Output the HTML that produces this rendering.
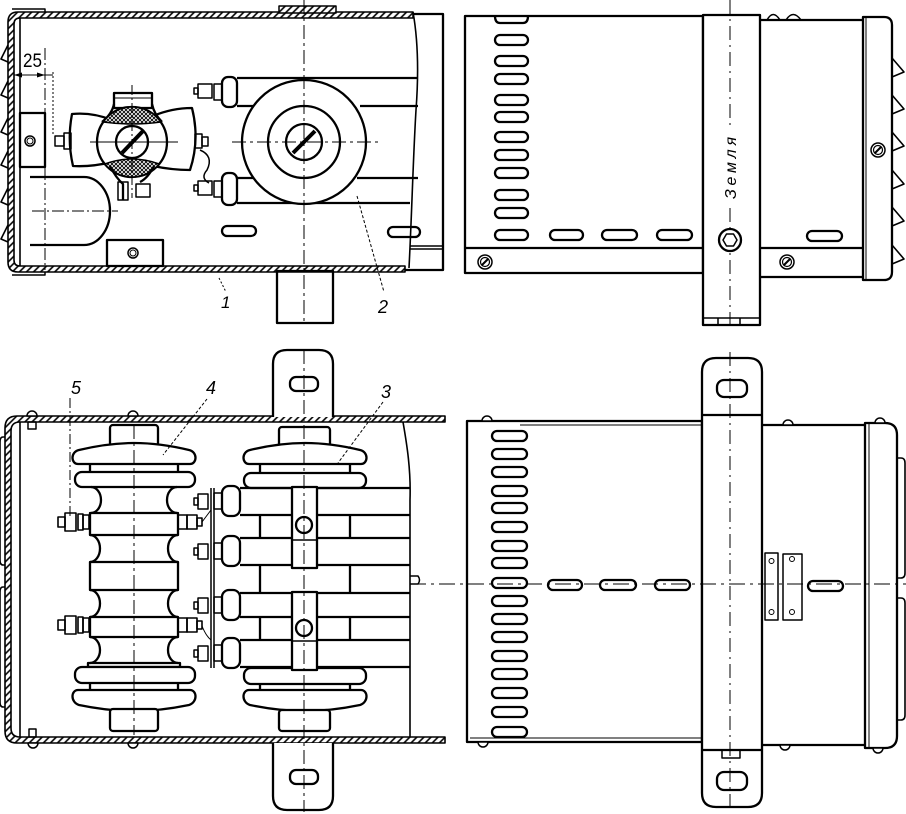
<!DOCTYPE html>
<html><head><meta charset="utf-8"><style>html,body{margin:0;padding:0;background:#fff}svg{display:block}</style></head>
<body>
<svg width="906" height="814" viewBox="0 0 906 814" xmlns="http://www.w3.org/2000/svg">
<defs>
<pattern id="hp" patternUnits="userSpaceOnUse" width="5" height="5" patternTransform="rotate(45)"><rect width="5" height="5" fill="#fff"/><line x1="1" y1="0" x2="1" y2="5" stroke="#000" stroke-width="1.6"/></pattern>
<pattern id="xp" patternUnits="userSpaceOnUse" width="4" height="4"><rect width="4" height="4" fill="#fff"/><path d="M0,0 L4,4 M4,0 L0,4" stroke="#000" stroke-width="0.9"/></pattern>
</defs>
<rect width="906" height="814" fill="#fff"/>
<g fill="none" stroke="#000" stroke-width="2.3" stroke-linejoin="round">

<!-- ================= TOP-LEFT VIEW ================= -->
<path fill="url(#hp)" stroke-width="1.6" d="M413,12 H18 Q8,12 8,22 V262 Q8,272 18,272 H405 V266 H20 Q14,266 14,260 V24 Q14,18 20,18 H413 Z"/>
<path stroke-width="1.5" d="M12,9 H45 V12 M12,275 H45 V272"/>
<line x1="20" y1="18" x2="20" y2="266" stroke-width="1.6"/>
<rect x="279" y="6" width="57" height="7" fill="url(#hp)" stroke-width="1.5"/>
<path stroke-width="1.6" d="M413,12 C418,40 419,70 416,110 C413,160 412,210 409,268"/>
<path d="M413,14 H443 V270 H405"/>
<path stroke-width="1.6" d="M410,246 H443 M410,249 H443"/>
<g stroke-width="1.6">
<path d="M8,45 L1,59 L8,62"/><path d="M8,81 L1,95 L8,98"/><path d="M8,118 L1,132 L8,135"/>
<path d="M8,151 L1,165 L8,168"/><path d="M8,188 L1,202 L8,205"/><path d="M8,225 L1,239 L8,242"/>
</g>
<line x1="45" y1="48" x2="45" y2="270" stroke-width="1" stroke-dasharray="12 3 2 3"/>
<line x1="14" y1="75" x2="53" y2="75" stroke-width="1"/>
<polygon points="14,75 22,72.5 22,77.5" fill="#000" stroke="none"/>
<polygon points="45,75 37,72.5 37,77.5" fill="#000" stroke="none"/>
<line x1="53" y1="72" x2="53" y2="135" stroke-width="1" stroke-dasharray="2 2"/>
<text x="23" y="67" font-family="Liberation Sans, sans-serif" font-size="19" fill="#000" stroke="none" textLength="19" lengthAdjust="spacingAndGlyphs">25</text>
<rect x="20" y="113" width="25" height="54"/>
<circle cx="30" cy="141" r="5" stroke-width="1.5"/><circle cx="30" cy="141" r="3" stroke-width="1"/>
<path d="M30,177 H84 A26,34 0 0 1 84,245 H30"/>
<line x1="32" y1="211" x2="118" y2="211" stroke-width="1" stroke-dasharray="12 3 2 3"/>
<rect x="107" y="240" width="56" height="26"/>
<circle cx="133" cy="253" r="5" stroke-width="1.5"/><circle cx="133" cy="253" r="3" stroke-width="1"/>

<!-- left assembly -->
<path fill="#fff" d="M112,120 Q92,112 72,114 Q67,140 73,166 Q92,167 112,162"/>
<path fill="#fff" d="M153,116 Q172,108 192,108 Q200,140 190,170 Q172,170 153,166"/>
<rect x="55" y="136" width="9" height="10" stroke-width="1.5"/><rect x="64" y="133" width="7" height="16" stroke-width="1.5"/>
<rect x="195" y="134" width="7" height="14" stroke-width="1.5"/><rect x="202" y="137" width="6" height="9" stroke-width="1.5"/>
<rect x="114" y="93" width="38" height="15" fill="#fff"/><line x1="114" y1="98" x2="152" y2="98" stroke-width="1"/>
<path d="M114,104 Q112,114 102,122 M152,104 Q154,114 162,122"/>
<circle cx="132" cy="142" r="35" fill="#fff"/>
<path fill="url(#xp)" stroke-width="1.5" d="M103.3,122 A35,35 0 0 1 160.7,122 Q132,126 103.3,122 Z"/>
<path fill="url(#xp)" stroke-width="1.5" d="M104.8,164 Q132,154 159.2,164 A35,35 0 0 1 104.8,164 Z"/>
<circle cx="132" cy="142" r="16"/>
<line x1="122" y1="153" x2="143" y2="131" stroke-width="4"/>
<line x1="90" y1="142" x2="178" y2="142" stroke-width="1"/>
<line x1="132" y1="85" x2="132" y2="198" stroke-width="1" stroke-dasharray="10 3 2 3"/>
<path d="M110,166 Q116,178 123,184 V200 M154,166 Q148,178 140,182"/>
<rect x="118" y="182" width="10" height="18" stroke-width="1.5"/><rect x="136" y="184" width="14" height="13" stroke-width="1.5"/>
<path stroke-width="1.5" d="M200,150 Q214,156 207,170 Q200,178 209,183"/>

<!-- right assembly -->
<path d="M237,78 H418 M237,106 H254 M360,106 H418 M237,178 H253 M357,178 H418 M237,203 H410"/>
<rect x="222" y="77" width="15" height="30" rx="6" fill="#fff"/>
<rect x="214" y="84" width="8" height="16" stroke-width="1.5"/><rect x="198" y="84" width="14" height="14" stroke-width="1.5"/><rect x="194" y="88" width="4" height="6" stroke-width="1.5"/>
<rect x="222" y="173" width="15" height="32" rx="6" fill="#fff"/>
<rect x="214" y="181" width="8" height="16" stroke-width="1.5"/><rect x="198" y="181" width="14" height="14" stroke-width="1.5"/><rect x="194" y="185" width="4" height="6" stroke-width="1.5"/>
<circle cx="304" cy="142" r="62" fill="#fff"/>
<circle cx="304" cy="142" r="36"/>
<circle cx="304" cy="142" r="18"/>
<line x1="293" y1="153" x2="315" y2="131" stroke-width="4"/>
<line x1="232" y1="142" x2="378" y2="142" stroke-width="1" stroke-dasharray="14 4 3 4"/>
<line x1="304" y1="0" x2="304" y2="325" stroke-width="1" stroke-dasharray="14 4 3 4"/>
<rect x="222" y="226" width="34" height="10" rx="5"/>
<rect x="388" y="227" width="32" height="10" rx="5"/>
<rect x="277" y="271" width="56" height="52"/>
<line x1="219" y1="278" x2="226" y2="292" stroke-width="1" stroke-dasharray="2 2"/>
<line x1="357" y1="196" x2="384" y2="292" stroke-width="1" stroke-dasharray="3 2"/>
<text x="221" y="308" font-family="Liberation Sans, sans-serif" font-style="italic" font-size="17" fill="#000" stroke="none">1</text>
<text x="378" y="313" font-family="Liberation Sans, sans-serif" font-style="italic" font-size="18" fill="#000" stroke="none">2</text>

<!-- ================= TOP-RIGHT VIEW ================= -->
<rect x="465" y="16" width="238" height="257"/>
<line x1="465" y1="248" x2="703" y2="248"/>
<path d="M760,20 H863 M760,248 H863 M760,277 H863"/>
<path stroke-width="1.5" d="M767,20 Q773,9 780,20 M786,20 Q793,9 801,20"/>
<rect x="703" y="15" width="57" height="310" fill="#fff"/>
<path stroke-width="1.5" d="M703,318 H760 M718,318 V325 M740,318 V325"/>
<path d="M863,17 H884 Q892,17 892,25 V272 Q892,280 884,280 H863 Z"/>
<line x1="866" y1="18" x2="866" y2="279" stroke-width="1"/>
<g stroke-width="1.6">
<path d="M892,58 L904,72 L892,77"/><path d="M892,95 L904,109 L892,114"/><path d="M892,132 L904,146 L892,151"/>
<path d="M892,170 L904,184 L892,189"/><path d="M892,207 L904,221 L892,226"/><path d="M892,245 L904,259 L892,264"/>
</g>
<g>
<path d="M495,16 Q495,23 500,23 H523 Q528,23 528,16"/>
<rect x="495" y="35" width="33" height="10" rx="5"/>
<rect x="495" y="56" width="33" height="10" rx="5"/>
<rect x="495" y="74" width="33" height="10" rx="5"/>
<rect x="495" y="95" width="33" height="10" rx="5"/>
<rect x="495" y="112" width="33" height="10" rx="5"/>
<rect x="495" y="132" width="33" height="10" rx="5"/>
<rect x="495" y="150" width="33" height="10" rx="5"/>
<rect x="495" y="168" width="33" height="10" rx="5"/>
<rect x="495" y="190" width="33" height="10" rx="5"/>
<rect x="495" y="208" width="33" height="10" rx="5"/>
<rect x="495" y="230" width="33" height="10" rx="5"/>
<rect x="550" y="230" width="33" height="10" rx="5"/>
<rect x="602" y="230" width="35" height="10" rx="5"/>
<rect x="657" y="230" width="35" height="10" rx="5"/>
<rect x="807" y="231" width="35" height="10" rx="5"/>
</g>
<g>
<circle cx="485" cy="262" r="7" stroke-width="1.5"/><circle cx="485" cy="262" r="4.5" stroke-width="1.2"/><line x1="482" y1="265" x2="488" y2="259" stroke-width="2"/>
<circle cx="787" cy="262" r="7" stroke-width="1.5"/><circle cx="787" cy="262" r="4.5" stroke-width="1.2"/><line x1="784" y1="265" x2="790" y2="259" stroke-width="2"/>
<circle cx="878" cy="150" r="7" stroke-width="1.5"/><circle cx="878" cy="150" r="4.5" stroke-width="1.2"/><line x1="875" y1="153" x2="881" y2="147" stroke-width="2"/>
</g>
<line x1="730" y1="0" x2="730" y2="330" stroke-width="1" stroke-dasharray="14 5 2 5"/>
<rect x="712" y="130" width="36" height="74" fill="#fff" stroke="none"/>
<circle cx="730" cy="240" r="11" fill="#fff"/>
<polygon points="737,240 733.5,246 726.5,246 723,240 726.5,234 733.5,234" stroke-width="1.5"/>
<text transform="translate(736,168) rotate(-90)" text-anchor="middle" font-family="Liberation Sans, sans-serif" font-style="italic" font-size="16" fill="#000" stroke="none" textLength="62" lengthAdjust="spacing">Земля</text>

<!-- ================= BOTTOM-LEFT VIEW ================= -->
<path fill="url(#hp)" stroke-width="1.6" d="M445,416 H17 Q5,416 5,428 V731 Q5,743 17,743 H445 V737 H20 Q11,737 11,728 V431 Q11,422 20,422 H445 Z"/>
<line x1="20" y1="422" x2="20" y2="737" stroke-width="1.6"/>
<path stroke-width="1.6" d="M5,437 H3 Q0,437 0,442 V560 Q0,565 3,565 H5 M5,587 H3 Q0,587 0,592 V702 Q0,707 3,707 H5"/>
<path stroke-width="1.5" fill="#fff" d="M27,416 A5,5 0 0 1 37,416 Z M128,416 A5,5 0 0 1 138,416 Z M28,743 A5,5 0 0 0 38,743 Z M128,743 A5,5 0 0 0 138,743 Z"/>
<rect x="28" y="422" width="8" height="7" stroke-width="1.5"/><rect x="29" y="729" width="7" height="8" stroke-width="1.5"/>
<path stroke-width="1.6" d="M403,422 C407,445 411,470 410,500 V737"/>
<path stroke-width="1.5" d="M410,576 H418 Q421,580 418,584 H410"/>

<!-- insulator 4 -->
<rect x="110" y="425" width="48" height="21" rx="3" fill="#fff"/>
<path d="M113,446 V449 M155,446 V449"/>
<path fill="#fff" d="M78,464 H190 C197,464 198,452 189,450 Q160,443 134,443 Q108,443 79,450 C70,452 71,464 78,464 Z"/>
<path d="M90,464 V472 M178,464 V472"/>
<rect x="75" y="472" width="120" height="15" rx="7" fill="#fff"/>
<path d="M91,487 A10,13 0 0 1 91,513 M177,487 A10,13 0 0 0 177,513"/>
<rect x="90" y="513" width="88" height="22"/>
<path d="M90,535 A10,13.5 0 0 1 90,562 M178,535 A10,13.5 0 0 0 178,562"/>
<rect x="90" y="562" width="88" height="28"/>
<path d="M90,590 A10,13.5 0 0 1 90,617 M178,590 A10,13.5 0 0 0 178,617"/>
<rect x="90" y="617" width="88" height="20"/>
<path d="M90,637 A10,13 0 0 1 90,663 M178,637 A10,13 0 0 0 178,663"/>
<rect x="88" y="663" width="92" height="4"/>
<rect x="75" y="667" width="120" height="16" rx="7" fill="#fff"/>
<path d="M90,683 V690 M178,683 V690"/>
<path fill="#fff" d="M78,690 H190 C197,690 198,702 189,705 Q160,711 134,711 Q108,711 79,705 C70,702 71,690 78,690 Z"/>
<rect x="110" y="709" width="48" height="22" rx="3" fill="#fff"/>
<g stroke-width="1.6">
<rect x="58" y="517" width="7" height="10"/><rect x="65" y="513" width="11" height="18"/><rect x="78" y="514" width="5" height="16"/><rect x="83" y="515" width="6" height="14"/>
<rect x="178" y="515" width="9" height="14"/><rect x="187" y="515" width="10" height="14"/><rect x="197" y="518" width="5" height="8"/>
<rect x="58" y="620" width="7" height="10"/><rect x="65" y="616" width="11" height="18"/><rect x="78" y="617" width="5" height="16"/><rect x="83" y="618" width="6" height="14"/>
<rect x="178" y="618" width="9" height="14"/><rect x="187" y="618" width="10" height="14"/><rect x="197" y="621" width="5" height="8"/>
</g>
<line x1="134" y1="425" x2="134" y2="735" stroke-width="1" stroke-dasharray="14 4 3 4"/>

<!-- insulator 3 + bars -->
<path fill="#fff" d="M273,417 V364 Q273,350 287,350 H319 Q333,350 333,364 V417"/>
<rect x="290" y="377" width="28" height="14" rx="6"/>
<path fill="#fff" d="M273,743 V796 Q273,810 287,810 H319 Q333,810 333,796 V743"/>
<rect x="290" y="770" width="28" height="14" rx="6"/>
<rect x="279" y="427" width="51" height="20" rx="3" fill="#fff"/>
<path fill="#fff" d="M249,464 H361 C368,464 369,452 360,450 Q331,443 305,443 Q279,443 250,450 C241,452 242,464 249,464 Z"/>
<path d="M260,464 V473 M350,464 V473"/>
<rect x="244" y="473" width="122" height="15" rx="7" fill="#fff"/>
<path d="M240,488 H410 M240,515 H410 M240,538 H410 M240,565 H410 M240,593 H410 M240,617 H410 M240,640 H410 M240,667 H410"/>
<path d="M260,515 V538 M350,515 V538 M260,565 V593 M350,565 V593 M260,617 V640 M350,617 V640"/>
<rect x="244" y="668" width="122" height="16" rx="7" fill="#fff"/>
<path d="M260,684 V690 M350,684 V690"/>
<path fill="#fff" d="M249,690 H361 C368,690 369,702 360,705 Q331,711 305,711 Q279,711 250,705 C241,702 242,690 249,690 Z"/>
<rect x="279" y="710" width="51" height="21" rx="3" fill="#fff"/>
<rect x="292" y="487" width="25" height="81" fill="#fff"/>
<line x1="292" y1="540" x2="317" y2="540" stroke-width="1.5"/>
<rect x="292" y="592" width="25" height="78" fill="#fff"/>
<line x1="292" y1="641" x2="317" y2="641" stroke-width="1.5"/>
<circle cx="304" cy="525" r="8"/><circle cx="304" cy="628" r="8"/>
<path stroke-width="1.5" d="M211,488 V668 M214,488 V668"/>
<g>
<rect x="222" y="486" width="18" height="30" rx="7" fill="#fff"/><rect x="214" y="493" width="8" height="16" stroke-width="1.5"/><rect x="198" y="494" width="10" height="15" stroke-width="1.5"/><rect x="194" y="498" width="4" height="7" stroke-width="1.5"/>
<rect x="222" y="536" width="18" height="30" rx="7" fill="#fff"/><rect x="214" y="543" width="8" height="16" stroke-width="1.5"/><rect x="198" y="544" width="10" height="15" stroke-width="1.5"/><rect x="194" y="548" width="4" height="7" stroke-width="1.5"/>
<rect x="222" y="590" width="18" height="30" rx="7" fill="#fff"/><rect x="214" y="597" width="8" height="16" stroke-width="1.5"/><rect x="198" y="598" width="10" height="15" stroke-width="1.5"/><rect x="194" y="602" width="4" height="7" stroke-width="1.5"/>
<rect x="222" y="638" width="18" height="30" rx="7" fill="#fff"/><rect x="214" y="645" width="8" height="16" stroke-width="1.5"/><rect x="198" y="646" width="10" height="15" stroke-width="1.5"/><rect x="194" y="650" width="4" height="7" stroke-width="1.5"/>
</g>
<path stroke-width="1" d="M202,522 L211,510 M202,626 Q206,636 211,640"/>
<line x1="304" y1="350" x2="304" y2="812" stroke-width="1" stroke-dasharray="14 4 3 4"/>
<text x="71" y="394" font-family="Liberation Sans, sans-serif" font-style="italic" font-size="18" fill="#000" stroke="none">5</text>
<text x="206" y="394" font-family="Liberation Sans, sans-serif" font-style="italic" font-size="18" fill="#000" stroke="none">4</text>
<text x="381" y="398" font-family="Liberation Sans, sans-serif" font-style="italic" font-size="18" fill="#000" stroke="none">3</text>
<line x1="70" y1="398" x2="70" y2="516" stroke-width="1" stroke-dasharray="10 3 2 3"/>
<line x1="207" y1="399" x2="163" y2="455" stroke-width="1" stroke-dasharray="3 2"/>
<line x1="383" y1="402" x2="338" y2="463" stroke-width="1" stroke-dasharray="3 2"/>

<!-- ================= BOTTOM-RIGHT VIEW ================= -->
<rect x="467" y="421" width="235" height="321"/>
<path stroke-width="1" d="M520,425 H702 M470,738 H702"/>
<path d="M762,425 H865 M762,745 H865"/>
<path d="M865,423 H885 Q897,423 897,435 V736 Q897,748 885,748 H865 Z"/>
<line x1="869" y1="424" x2="869" y2="747" stroke-width="1"/>
<path stroke-width="1.6" d="M897,458 H901 Q905,458 905,463 V573 Q905,578 901,578 H897 M897,598 H901 Q905,598 905,603 V715 Q905,720 901,720 H897"/>
<g>
<rect x="492" y="431" width="35" height="10" rx="5"/>
<rect x="492" y="449" width="35" height="10" rx="5"/>
<rect x="492" y="467" width="35" height="10" rx="5"/>
<rect x="492" y="486" width="35" height="10" rx="5"/>
<rect x="492" y="503" width="35" height="10" rx="5"/>
<rect x="492" y="522" width="35" height="10" rx="5"/>
<rect x="492" y="541" width="35" height="10" rx="5"/>
<rect x="492" y="558" width="35" height="10" rx="5"/>
<rect x="492" y="578" width="35" height="10" rx="5"/>
<rect x="492" y="596" width="35" height="10" rx="5"/>
<rect x="492" y="614" width="35" height="10" rx="5"/>
<rect x="492" y="632" width="35" height="10" rx="5"/>
<rect x="492" y="651" width="35" height="10" rx="5"/>
<rect x="492" y="669" width="35" height="10" rx="5"/>
<rect x="492" y="688" width="35" height="10" rx="5"/>
<rect x="492" y="707" width="35" height="10" rx="5"/>
<rect x="492" y="727" width="35" height="10" rx="5"/>
<rect x="548" y="580" width="34" height="10" rx="5"/>
<rect x="600" y="580" width="36" height="10" rx="5"/>
<rect x="655" y="580" width="35" height="10" rx="5"/>
<rect x="808" y="581" width="35" height="10" rx="5"/>
</g>
<path fill="#fff" d="M702,372 Q702,358 716,358 H748 Q762,358 762,372 V793 Q762,807 748,807 H716 Q702,807 702,793 Z"/>
<path d="M702,415 H762 M702,750 H762"/>
<rect x="717" y="380" width="30" height="17" rx="7"/>
<rect x="717" y="772" width="30" height="18" rx="7"/>
<rect x="765" y="553" width="13" height="67" stroke-width="1.5"/>
<rect x="783" y="554" width="19" height="66" stroke-width="1.5"/>
<g stroke-width="1"><circle cx="771.5" cy="561" r="2.5"/><circle cx="771.5" cy="612" r="2.5"/><circle cx="792" cy="559" r="2.5"/><circle cx="792" cy="612" r="2.5"/></g>
<path stroke-width="1.5" fill="#fff" d="M482,421 A5,5 0 0 1 492,421 Z M783,425 A5,5 0 0 1 793,425 Z M875,423 A5,5 0 0 1 885,423 Z M478,742 A5,5 0 0 0 488,742 Z M780,745 A5,5 0 0 0 790,745 Z M873,748 A5,5 0 0 0 883,748 Z"/>
<rect x="722" y="750" width="18" height="8" stroke-width="1.5"/>
<line x1="410" y1="584" x2="906" y2="584" stroke-width="1" stroke-dasharray="16 5 3 5"/>
<line x1="730" y1="352" x2="730" y2="812" stroke-width="1" stroke-dasharray="14 5 2 5"/>

</g>
</svg>
</body></html>
